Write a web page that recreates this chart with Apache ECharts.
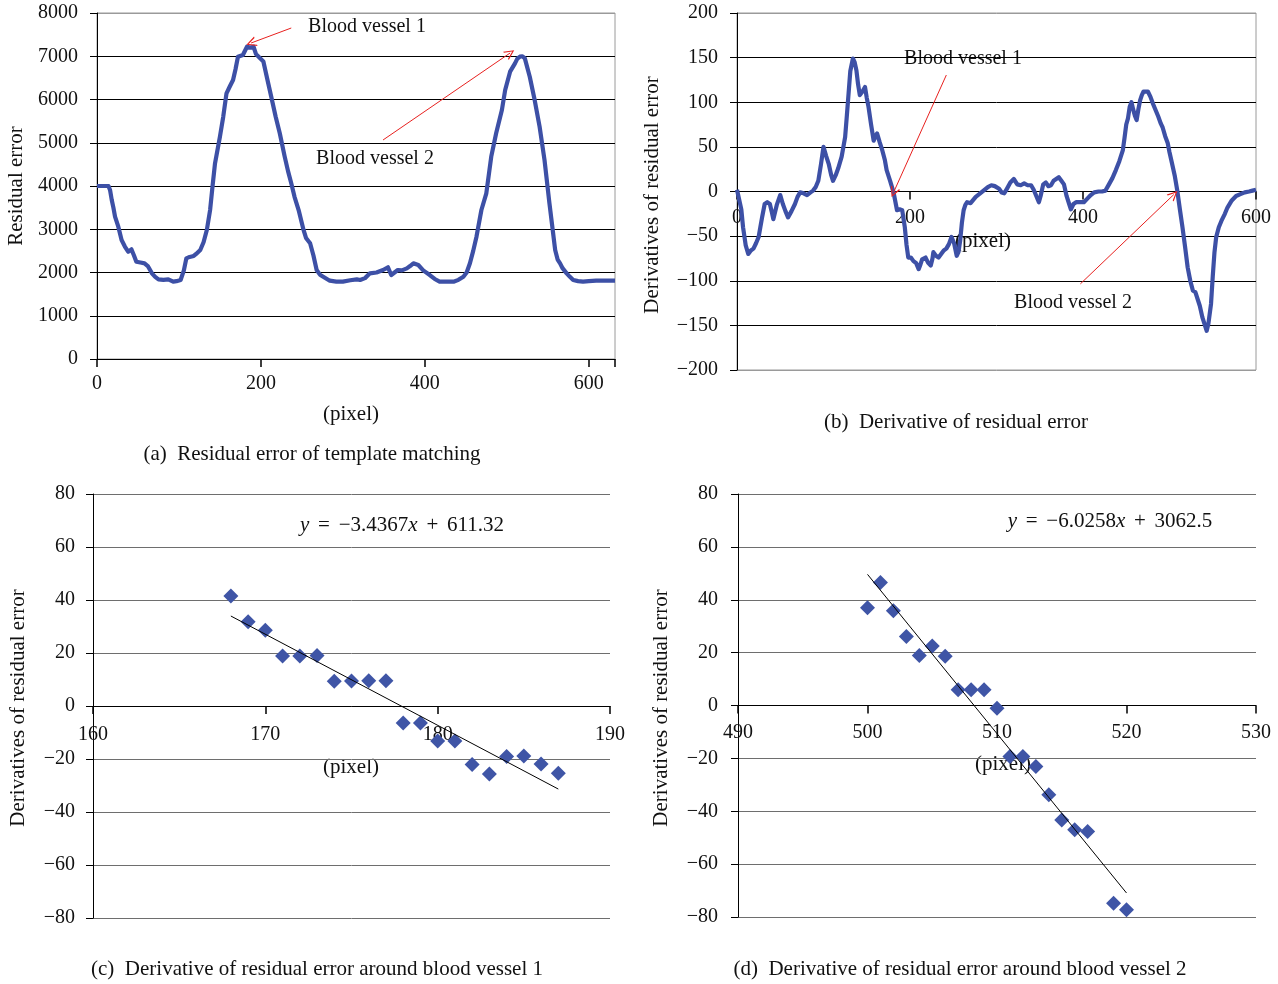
<!DOCTYPE html>
<html>
<head>
<meta charset="utf-8">
<script src="https://cdn.jsdelivr.net/npm/echarts@6/dist/echarts.min.js"></script>
<style>
html,body{margin:0;padding:0;background:#fff;}
#chart{width:1278px;height:984px;}
</style>
</head>
<body>
<div id="chart"></div>
<script>
// ---------- data ----------
const aPixel = [0,14,16,18,20,22,26,30,34,38,42,45,48,53,58,62,67,71,75,81,87,93,97,102,106,109,113,118,121,126,130,134,138,141,144,150,154,158,162,166,169,172,178,183,187,191,194,199,203,208,213,218,223,229,233,237,241,246,252,255,260,264,268,272,276,284,292,300,309,317,321,327,333,341,349,355,359,363,367,372,378,382,386,388,392,398,406,412,418,426,435,441,447,451,455,459,463,469,475,481,487,494,498,504,510,513,516,519,522,528,534,540,546,552,559,562,565,568,573,577,581,587,593,600,609,620,632];
const aResidual = [4000,4000,3900,3676,3500,3290,3060,2750,2600,2480,2536,2400,2250,2230,2212,2150,1981,1900,1842,1830,1842,1788,1800,1827,2050,2328,2360,2382,2430,2520,2700,2983,3445,4000,4525,5140,5600,6143,6300,6450,6700,6990,7030,7220,7200,7220,7050,6952,6880,6450,6028,5600,5220,4678,4350,4062,3750,3445,2983,2800,2675,2400,2058,1950,1903,1811,1790,1788,1820,1842,1827,1870,1980,2000,2058,2120,1942,2000,2058,2050,2096,2150,2212,2230,2173,2050,1942,1850,1788,1790,1788,1830,1903,2000,2212,2500,2828,3445,3831,4678,5220,5757,6220,6643,6836,6950,6990,7000,6950,6527,5988,5372,4600,3600,2520,2300,2212,2100,1981,1900,1827,1800,1788,1800,1811,1811,1811];

const bPixel = [0,2,5,7,10,13,16,19,22,25,27,29,32,35,38,40,42,46,50,53,56,59,63,67,70,73,77,81,85,88,91,94,97,100,103,106,109,111,114,117,121,125,127,129,131,134,136,138,140,142,145,148,150,152,155,158,160,162,165,168,171,173,177,181,185,188,191,194,196,198,201,204,207,210,212,214,216,218,221,224,226,227,230,233,236,239,242,245,248,251,254,256,258,260,262,264,266,270,272,276,280,285,290,294,298,303,306,309,312,316,320,324,328,332,336,340,343,346,349,351,354,357,360,363,366,369,372,375,378,381,384,386,389,392,396,401,405,409,413,418,422,426,430,434,438,442,446,448,450,452,454,456,458,460,462,464,466,468,470,472,475,478,481,484,487,490,492,495,498,500,503,506,509,512,515,518,521,524,527,530,532,535,538,541,543,545,548,550,552,554,557,560,564,567,572,577,582,587,592,596,600];
const bDeriv = [2,1,-20,-40,-60,-70,-66,-64,-58,-51,-40,-29,-14,-12,-14,-22,-31,-15,-4,-14,-22,-29,-22,-14,-6,-1,-2,-4,-1,1,5,12,30,50,40,31,18,12,18,26,39,61,85,110,135,149,145,136,120,108,112,117,105,95,75,57,62,65,55,46,35,24,12,-1,-21,-20,-21,-40,-60,-74,-74,-78,-80,-87,-82,-76,-74,-74,-80,-83,-75,-68,-72,-74,-70,-66,-64,-59,-51,-58,-72,-68,-55,-35,-21,-15,-12,-13,-14,-6,-3,1,5,7,6,3,-1,-2,3,10,14,8,7,9,7,7,2,-5,-12,-5,8,10,6,7,12,14,16,12,8,-5,-14,-20,-14,-12,-12,-12,-8,-4,-1,0,0,1,8,15,24,34,46,60,75,82,95,100,92,85,80,92,102,108,112,114,112,106,98,91,84,76,72,62,54,44,31,18,1,-20,-40,-62,-85,-100,-111,-113,-115,-128,-141,-150,-156,-148,-126,-95,-68,-51,-40,-33,-25,-18,-10,-5,-3,-1,0,1,2];

const cPixel = [168,169,170,171,172,173,174,175,176,177,178,179,180,181,182,183,184,185,186,187];
const cDeriv = [41.5,31.8,28.6,18.9,18.9,19.1,9.3,9.4,9.5,9.5,-6.4,-6.4,-13.2,-13.2,-22.1,-25.7,-19.1,-18.9,-21.9,-25.4];
const cSlope = -3.4367, cIntercept = 611.32;

const dPixel = [500,501,502,503,504,505,506,507,508,509,510,511,512,513,514,515,516,517,519,520];
const dDeriv = [37.0,46.5,35.8,26.1,18.9,22.5,18.6,6.0,6.0,6.0,-1.0,-19.3,-19.3,-23.1,-33.8,-43.3,-47.0,-47.7,-74.8,-77.3];
const dSlope = -6.0258, dIntercept = 3062.5;

const captions = [
  '(a)  Residual error of template matching',
  '(b)  Derivative of residual error',
  '(c)  Derivative of residual error around blood vessel 1',
  '(d)  Derivative of residual error around blood vessel 2'
];

// ---------- build ----------
const pair = (xs, ys) => xs.map((x, i) => [x, ys[i]]);
const trend = (xs, m, b) => [xs[0], xs[xs.length - 1]].map(x => [x, +(m * x + b).toFixed(3)]);

const FONT = '"Liberation Serif","DejaVu Serif",serif';
const TXT = '#111';
const LINE_BLUE = '#3D50A6';
const DOT_BLUE = '#3F55A6';
const minusFmt = v => (v < 0 ? '\u2212' + Math.abs(v) : String(v));
const arrowSym = 'path://M5,0 L10,10 L8.6,10 L5,2.4 L1.4,10 L0,10 Z';

function yAx(gi, min, max, interval, gridColor, margin) {
  return {
    gridIndex: gi, type: 'value', min, max, interval,
    axisLine: { show: true, lineStyle: { color: '#000', width: 1 } },
    axisTick: { show: true, length: 7, lineStyle: { color: '#000' } },
    axisLabel: { fontFamily: FONT, fontSize: 20, color: TXT, margin, formatter: minusFmt },
    splitLine: { show: true, lineStyle: { color: gridColor, width: 1 } }
  };
}
function xAx(gi, min, max, interval, margin, offset, keep) {
  return {
    gridIndex: gi, type: 'value', min, max, interval, position: 'bottom', offset,
    axisLine: { show: true, onZero: false, lineStyle: { color: '#000', width: 1 } },
    axisTick: { show: true, length: 8, lineStyle: { color: '#000', width: 1.5 } },
    axisLabel: { fontFamily: FONT, fontSize: 20, color: TXT, margin,
      formatter: v => (keep(v) ? minusFmt(v) : '') },
    splitLine: { show: false }
  };
}
function txt(x, y, text, size, opts) {
  return Object.assign({
    type: 'text', x, y, silent: true,
    style: { text, fontFamily: FONT, fontSize: size || 21, fill: TXT, align: 'center', verticalAlign: 'middle' }
  }, opts || {});
}
function vtxt(x, y, text) {
  return txt(x, y, text, 21, { rotation: Math.PI / 2 });
}
function eq(x, y, m, b) {
  const s = m < 0 ? '\u2212' : '';
  const sp = ' \u200A\u200A';
  return {
    type: 'text', x, y, silent: true,
    style: {
      text: '{i|y}' + sp + '=' + sp + s + Math.abs(m) + '{i|x}' + sp + '+' + sp + b,
      fontFamily: FONT, fontSize: 21, fill: TXT, align: 'center', verticalAlign: 'middle',
      rich: { i: { fontStyle: 'italic', fontFamily: FONT, fontSize: 21, fill: TXT } }
    }
  };
}
const arrowLine = pts => ({
  silent: true, symbol: ['none', arrowSym], symbolSize: [10, 10], animation: false,
  lineStyle: { color: '#E8211F', width: 1, type: 'solid' },
  label: { show: false }, emphasis: { disabled: true },
  data: pts.map(p => [{ coord: p[0] }, { coord: p[1] }])
});

// grid boxes (px)
const G = [
  { left: 97, top: 13, width: 518, height: 346 },
  { left: 737, top: 13, width: 519, height: 357 },
  { left: 93, top: 494, width: 517, height: 424 },
  { left: 738, top: 494, width: 518, height: 423 }
];

const option = {
  animation: false,
  backgroundColor: '#fff',
  grid: [
    Object.assign({ show: true, borderColor: '#9a9a9a', borderWidth: 1 }, G[0]),
    Object.assign({ show: true, borderColor: '#9a9a9a', borderWidth: 1 }, G[1]),
    G[2], G[3]
  ],
  xAxis: [
    xAx(0, 0, 632, 200, 15, 0, v => v % 200 === 0),
    xAx(1, 0, 600, 200, 16, -G[1].height / 2, v => true),
    xAx(2, 160, 190, 10, 19, -G[2].height / 2, v => true),
    xAx(3, 490, 530, 10, 17, -G[3].height / 2, v => true)
  ],
  yAxis: [
    yAx(0, 0, 8000, 1000, ['#000','#000','#000','#000','#000','#000','#000','#000','#9a9a9a'], 19),
    yAx(1, -200, 200, 50, ['#9a9a9a','#000','#000','#000','#000','#000','#000','#000','#9a9a9a'], 19),
    yAx(2, -80, 80, 20, '#6e6e6e', 18),
    yAx(3, -80, 80, 20, '#6e6e6e', 20)
  ],
  series: [
    {
      type: 'line', xAxisIndex: 0, yAxisIndex: 0, data: pair(aPixel, aResidual),
      showSymbol: false, lineStyle: { color: LINE_BLUE, width: 4.2, join: 'round' }, z: 3,
      markLine: arrowLine([[[237, 7653], [188, 7306]], [[349, 5064], [504, 7075]]])
    },
    {
      type: 'line', xAxisIndex: 1, yAxisIndex: 1, data: pair(bPixel, bDeriv),
      showSymbol: false, lineStyle: { color: LINE_BLUE, width: 4.2, join: 'round' }, z: 3,
      markLine: arrowLine([[[242, 130.5], [181, -1]], [[397, -103.5], [505, -3.4]]])
    },
    {
      type: 'scatter', xAxisIndex: 2, yAxisIndex: 2, data: pair(cPixel, cDeriv),
      symbol: 'diamond', symbolSize: 15, itemStyle: { color: DOT_BLUE, opacity: 1 }, z: 3
    },
    {
      type: 'line', xAxisIndex: 2, yAxisIndex: 2, data: trend(cPixel, cSlope, cIntercept),
      showSymbol: false, lineStyle: { color: '#000', width: 1 }, z: 4
    },
    {
      type: 'scatter', xAxisIndex: 3, yAxisIndex: 3, data: pair(dPixel, dDeriv),
      symbol: 'diamond', symbolSize: 15, itemStyle: { color: DOT_BLUE, opacity: 1 }, z: 3
    },
    {
      type: 'line', xAxisIndex: 3, yAxisIndex: 3, data: trend(dPixel, dSlope, dIntercept),
      showSymbol: false, lineStyle: { color: '#000', width: 1 }, z: 4
    }
  ],
  graphic: [
    // axis titles
    vtxt(16, 186, 'Residual error'),
    vtxt(652, 195, 'Derivatives of residual error'),
    vtxt(18, 708, 'Derivatives of residual error'),
    vtxt(661, 708, 'Derivatives of residual error'),
    txt(351, 414, '(pixel)'),
    txt(983, 241, '(pixel)'),
    txt(351, 767, '(pixel)'),
    txt(1003, 764, '(pixel)'),
    // annotations
    txt(367, 27, 'Blood vessel 1', 20),
    txt(375, 159, 'Blood vessel 2', 20),
    txt(963, 59, 'Blood vessel 1', 20),
    txt(1073, 303, 'Blood vessel 2', 20),
    eq(402, 525, cSlope, cIntercept),
    eq(1110, 521, dSlope, dIntercept),
    // captions
    txt(312, 454, captions[0]),
    txt(956, 422, captions[1]),
    txt(317, 969, captions[2]),
    txt(960, 969, captions[3])
  ]
};

const chart = echarts.init(document.getElementById('chart'), null, { renderer: 'canvas' });
chart.setOption(option);
</script>
</body>
</html>
